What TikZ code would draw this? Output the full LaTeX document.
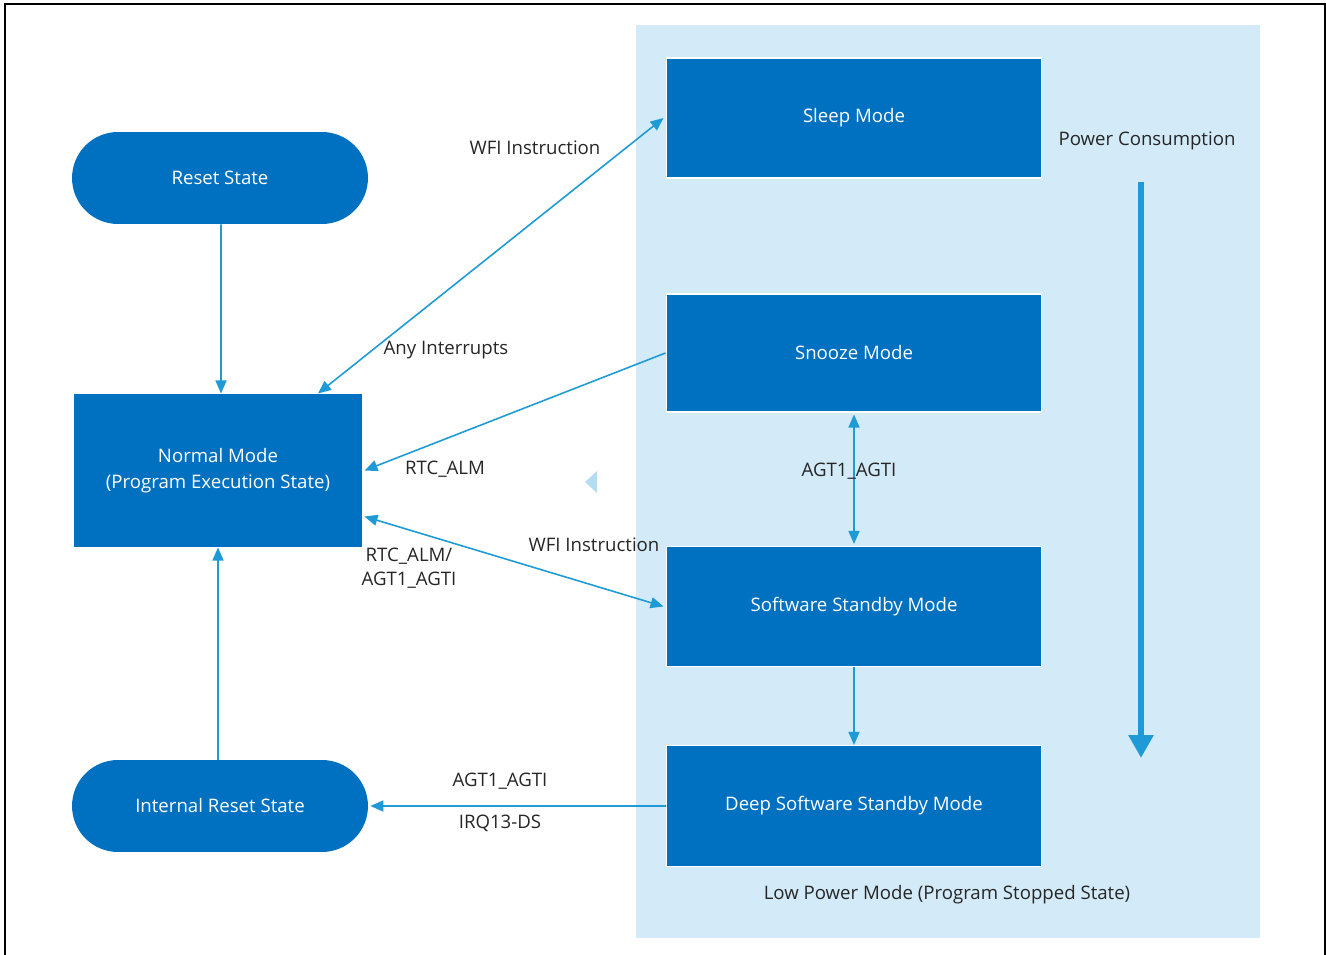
\documentclass[tikz,border=0pt]{standalone}
\usepackage{fontspec}
\setmainfont{Open Sans}
\usetikzlibrary{arrows.meta}

\definecolor{modeblue}{HTML}{0070C0}
\definecolor{lowpower}{HTML}{D3EBF8}
\definecolor{linkblue}{HTML}{1E9BD7}
\definecolor{faintblue}{HTML}{B5DDF2}

\tikzset{
    modebox/.style={rectangle, fill=modeblue, draw=white, line width=0.6pt,
        text=white, minimum width=7.52cm, minimum height=2.4cm, align=center},
    statebox/.style={rectangle, rounded corners=0.92cm, fill=modeblue,
        text=white, minimum width=5.92cm, minimum height=1.84cm},
    link/.style={draw=linkblue, line width=0.9pt,
        -{Triangle[length=2.6mm,width=2.2mm]}},
    linkboth/.style={link, {Triangle[length=2.6mm,width=2.2mm]}-{Triangle[length=2.6mm,width=2.2mm]}},
    tag/.style={text=black!85, align=center}
}

\begin{document}
\begin{tikzpicture}[x=0.02cm, y=-0.02cm, font=\fontsize{10.6}{14.5}\selectfont]
    \useasboundingbox (0,0) rectangle (1326,955);

    % Frame
    \draw[line width=1.2pt] (5,955) -- (5,4) -- (1325,4) -- (1325,955);

    % Low power region
    \fill[lowpower] (636,25) rectangle (1260,938);
    \node[tag] (lpm) at (947,895) {Low Power Mode (Program Stopped State)};

    % Low power modes
    \node[modebox] (sleep) at (854,118) {Sleep Mode};
    \node[modebox, minimum height=2.36cm] (snooze) at (854,353) {Snooze Mode};
    \node[modebox] (swstandby) at (854,606.5) {Software Standby Mode};
    \node[modebox, minimum height=2.42cm] (deepstandby) at (854,806) {Deep Software Standby Mode};

    % States on the left
    \node[statebox] (reset) at (220,178) {Reset State};
    \node[modebox, minimum width=5.76cm, minimum height=3.06cm, draw=none]
        (normal) at (218,470.5) {Normal Mode\\(Program Execution State)};
    \node[statebox] (intreset) at (220,806) {Internal Reset State};

    % Reset paths
    \draw[link] ([xshift=0.02cm]reset.south) -- ([xshift=0.06cm]normal.north);
    \draw[link] (intreset.north -| normal.south) -- (normal.south);

    % Sleep
    \draw[linkboth] ([xshift=2cm]normal.north) -- ([xshift=-0.04cm]sleep.west);
    \node[tag] (wfisleep) at (535,148) {WFI Instruction};
    \node[tag] (anyint) at (446,350) {Any Interrupts};

    % Snooze
    \draw[link] (snooze.west) -- ([xshift=0.04cm]normal.east);
    \node[tag] (rtcalm) at (445,469) {RTC\_ALM};
    \draw[linkboth] ([yshift=-0.04cm]snooze.south) -- ([yshift=0.04cm]swstandby.north);
    \node[tag] (agtsnooze) at (849,471) {AGT1\_AGTI};

    % Software standby
    \draw[linkboth] ([xshift=0.04cm, yshift=-0.92cm]normal.east) -- ([xshift=-0.04cm]swstandby.west);
    \node[tag] (wfistandby) at (594,545) {WFI Instruction};
    \node[tag, font=\fontsize{10.6}{13.6}\selectfont] (wakeup) at (409,568) {RTC\_ALM/\\AGT1\_AGTI};
    \draw[link] (swstandby.south) -- (deepstandby.north);

    % Deep software standby
    \draw[link] (deepstandby.west) -- ([xshift=0.04cm]intreset.east);
    \node[tag] (agtdeep) at (500,781) {AGT1\_AGTI};
    \node[tag] (irq) at (500,823) {IRQ13-DS};

    % Power consumption
    \node[tag] (power) at (1147,141) {Power Consumption};
    \coordinate (powerstart) at (1141,182);
    \coordinate (powerend) at (1141,758);
    \draw[draw=linkblue, line width=3.4pt, -{Triangle[length=4.6mm,width=4.8mm]}]
        (powerstart) -- (powerend);

    % Small marker
    \fill[faintblue] (585,482) -- (597,471) -- (597,493) -- cycle;
\end{tikzpicture}
\end{document}
